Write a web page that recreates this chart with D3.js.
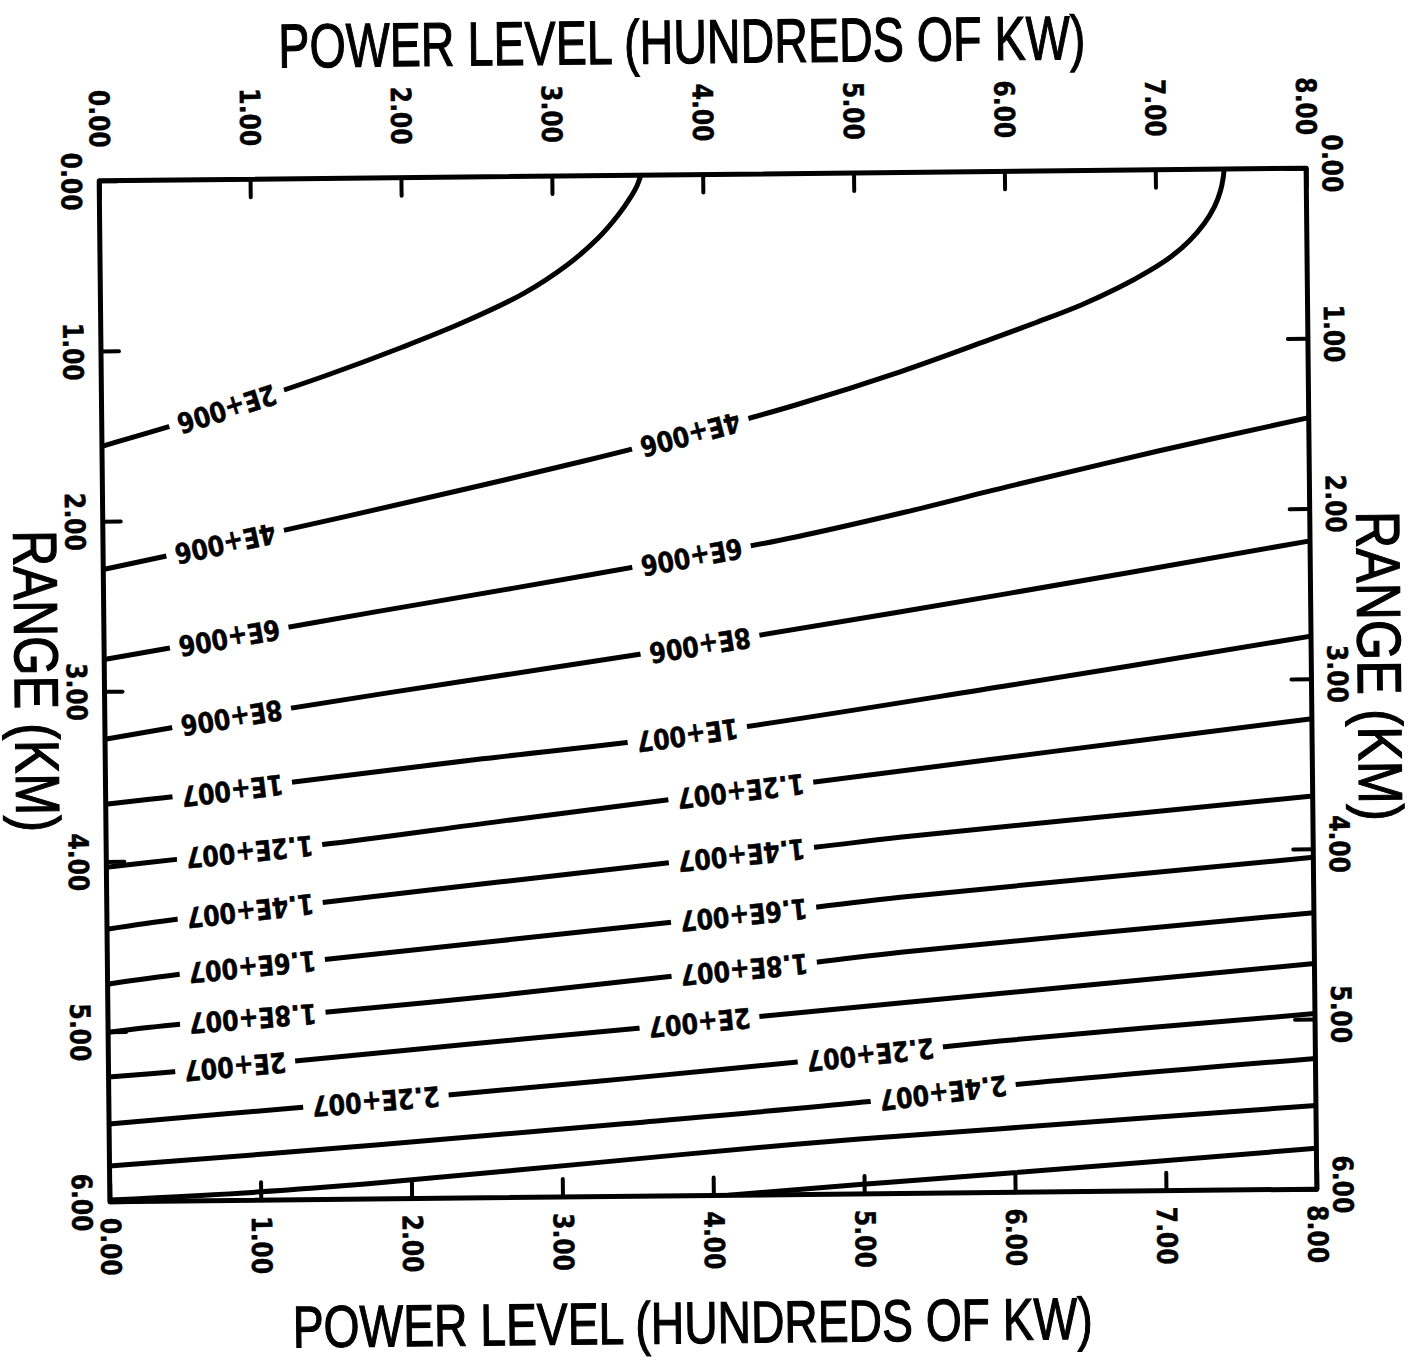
<!DOCTYPE html>
<html><head><meta charset="utf-8">
<script src="https://cdn.jsdelivr.net/npm/d3@7"></script>
<style>body{margin:0;background:#fff;} svg{display:block}</style>
</head><body>
<svg id="chart" width="1416" height="1360"></svg>
<script>
// ---------- data ----------
const xTickValues = [0, 1, 2, 3, 4, 5, 6, 7, 8];
const xTickLabels = ["0.00", "1.00", "2.00", "3.00", "4.00", "5.00", "6.00", "7.00", "8.00"];
const yTickValues = [0, 1, 2, 3, 4, 5, 6];
const yTickLabels = ["0.00", "1.00", "2.00", "3.00", "4.00", "5.00", "6.00"];
const xTitle = "POWER LEVEL (HUNDREDS OF KW)";
const yTitle = "RANGE (KM)";

const levelLabels = ["2E+006", "4E+006", "6E+006", "8E+006", "1E+007", "1.2E+007", "1.4E+007",
  "1.6E+007", "1.8E+007", "2E+007", "2.2E+007", "2.4E+007", "2.6E+007", "2.8E+007"];

// contour lines: [power (hundreds of kW), range (km)]
const line2e6 = [[0,1.56],[0.5,1.435],[1.0,1.30],[1.5,1.155],[2.0,0.995],[2.4,0.855],[2.8,0.69],[3.1,0.52],[3.3,0.37],[3.44,0.23],[3.52,0.13],[3.565,0.06],[3.59,0]];
const line4e6 = [[0,2.284],[0.8,2.14],[1.6,1.99],[2.4,1.835],[3.2,1.675],[3.9,1.525],[4.6,1.36],[5.3,1.17],[5.9,0.985],[6.2,0.89],[6.5,0.79],[6.75,0.69],[6.95,0.595],[7.1,0.51],[7.22,0.42],[7.32,0.32],[7.39,0.22],[7.43,0.13],[7.45,0.05],[7.456,0]];
const line6e6 = [[0,2.813],[0.83,2.692],[1.8,2.55],[2.71,2.42],[3.9,2.246],[4.6,2.134],[5.3,2.0],[6.0,1.853],[7.0,1.653],[8,1.466]];
const line8e6 = [[0,3.282],[0.84,3.162],[2.4,2.96],[3.95,2.765],[6,2.48],[8,2.19]];
const line1e7 = [[0,3.664],[0.29,3.637],[0.84,3.59],[1.22,3.547],[2.5,3.42],[3.86,3.293],[6,3.02],[8,2.75]];
const line12e7 = [[0,4.034],[0.466,3.992],[0.95,3.95],[1.434,3.914],[2.6,3.79],[3.717,3.673],[4.70,3.577],[6.3,3.41],[8,3.235]];
const line14e7 = [[0,4.398],[0.462,4.344],[1.43,4.254],[2.6,4.145],[3.713,4.043],[4.71,3.959],[5.26,3.907],[8,3.69]];
const line16e7 = [[0,4.721],[0.478,4.667],[1.44,4.589],[2.6,4.49],[3.71,4.395],[4.71,4.311],[5.26,4.259],[8,4.05]];
const line18e7 = [[0,5.003],[0.475,4.961],[1.44,4.90],[2.6,4.81],[3.71,4.712],[4.71,4.634],[5.26,4.582],[8,4.375]];
const line2e7 = [[0,5.267],[0.472,5.237],[1.22,5.185],[2.4,5.095],[3.55,5.01],[4.32,4.951],[5.25,4.881],[8,4.674]];
const line22e7 = [[0,5.543],[1.285,5.456],[2.25,5.393],[3.43,5.308],[4.7,5.21],[5.91,5.11],[8,4.968]];
const line24e7 = [[0,5.79],[1.786,5.682],[3.43,5.572],[5.0,5.46],[5.91,5.375],[8,5.232]];
const line26e7 = [[0,5.99],[0.975,5.952],[1.786,5.905],[3.16,5.805],[4.53,5.705],[5.91,5.625],[8,5.508]];
const line28e7 = [[4.1,6.0],[4.97,5.945],[5.99,5.885],[8,5.76]];

// power positions of the in-line labels for each contour
const labelPositions = [[0.83],[0.81,3.9],[0.83,3.9],[0.84,3.95],[0.84,3.86],[0.95,4.21],[0.95,4.21],
  [0.96,4.22],[0.96,4.22],[0.84,3.92],[1.77,5.05],[5.53],[],[]];

// ---------- layout ----------
const W = 1416, H = 1360;
const M = {left: 104.5, top: 174.5, width: 1207, height: 1021};
const contours = [line2e6, line4e6, line6e6, line8e6, line1e7, line12e7, line14e7, line16e7,
  line18e7, line2e7, line22e7, line24e7, line26e7, line28e7].map((pts, i) => ({
    pts, text: levelLabels[i], labels: labelPositions[i]}));

const x = d3.scaleLinear().domain([0, 8]).range([M.left, M.left + M.width]);
const y = d3.scaleLinear().domain([0, 6]).range([M.top, M.top + M.height]);

const svg = d3.select("#chart");
svg.append("rect").attr("width", W).attr("height", H).attr("fill", "#fff");
svg.append("defs").append("clipPath").attr("id", "plotclip").append("rect")
  .attr("x", M.left).attr("y", M.top).attr("width", M.width).attr("height", M.height);

const g = svg.append("g").attr("transform", "rotate(-0.6,708,685)");
const LBLFONT = "'DejaVu Sans', sans-serif";
const TITLEFONT = "'Liberation Sans Narrow', 'Liberation Sans', Arial, sans-serif";

// contours
const plot = g.append("g").attr("clip-path", "url(#plotclip)");
const lineGen = d3.line().x(d => x(d[0])).y(d => y(d[1])).curve(d3.curveCatmullRom.alpha(0.5));
const labelLayer = g.append("g");

function pointAtX(node, tx) {
  const L = node.getTotalLength();
  let lo = 0, hi = L;
  for (let k = 0; k < 40; k++) {
    const mid = (lo + hi) / 2;
    if (node.getPointAtLength(mid).x < tx) lo = mid; else hi = mid;
  }
  return (lo + hi) / 2;
}

contours.forEach(c => {
  const path = plot.append("path").datum(c.pts).attr("d", lineGen)
    .attr("fill", "none").attr("stroke", "#000").attr("stroke-width", 5)
    .attr("stroke-linecap", "round").attr("stroke-linejoin", "round");
  const node = path.node();
  c.labels.forEach(p => {
    const l = pointAtX(node, x(p));
    const pt = node.getPointAtLength(l);
    const a = node.getPointAtLength(Math.max(0, l - 8));
    const b = node.getPointAtLength(l + 8);
    const ang = Math.atan2(b.y - a.y, b.x - a.x) * 180 / Math.PI;
    const lg = labelLayer.append("g").attr("transform", `translate(${pt.x},${pt.y}) rotate(${ang + 180})`);
    const rect = lg.append("rect").attr("fill", "#fff");
    const t = lg.append("text").text(c.text)
      .attr("text-anchor", "middle").attr("dominant-baseline", "central")
      .attr("font-family", LBLFONT).attr("font-weight", "bold").attr("font-size", 28)
      .attr("stroke", "#000").attr("stroke-width", 0.5)
      .attr("transform", "scale(0.85,1)").attr("fill", "#000");
    const w = t.node().getComputedTextLength() * 0.85;
    rect.attr("x", -w / 2 - 9).attr("y", -14).attr("width", w + 18).attr("height", 28);
  });
});

// frame
g.append("rect").attr("x", M.left).attr("y", M.top).attr("width", M.width).attr("height", M.height)
  .attr("fill", "none").attr("stroke", "#000").attr("stroke-width", 5).attr("stroke-linejoin", "round");

function styleAxis(ax, textTransform, anchor) {
  ax.select(".domain").remove();
  ax.selectAll(".tick line").attr("stroke", "#000").attr("stroke-width", 4).attr("stroke-linecap", "round");
  ax.selectAll(".tick text").attr("x", null).attr("y", null).attr("dy", null)
    .attr("transform", textTransform).attr("text-anchor", anchor).attr("dominant-baseline", "central")
    .attr("font-family", LBLFONT).attr("font-weight", "bold").attr("font-size", 28)
    .attr("stroke", "#000").attr("stroke-width", 0.5).attr("fill", "#000");
}

const topAxis = g.append("g").attr("transform", `translate(0,${M.top})`)
  .call(d3.axisTop(x).tickValues(xTickValues).tickFormat((d, i) => xTickLabels[i]).tickSize(-18).tickSizeOuter(0));
styleAxis(topAxis, "translate(0,-33) rotate(90) scale(0.84,1)", "end");

const bottomAxis = g.append("g").attr("transform", `translate(0,${M.top + M.height})`)
  .call(d3.axisBottom(x).tickValues(xTickValues).tickFormat((d, i) => xTickLabels[i]).tickSize(-18).tickSizeOuter(0));
styleAxis(bottomAxis, "translate(0,16) rotate(90) scale(0.84,1)", "start");

const leftAxis = g.append("g").attr("transform", `translate(${M.left},0)`)
  .call(d3.axisLeft(y).tickValues(yTickValues).tickFormat((d, i) => yTickLabels[i]).tickSize(-18).tickSizeOuter(0));
styleAxis(leftAxis, "translate(-28,0) rotate(90) scale(0.84,1)", "middle");

const rightAxis = g.append("g").attr("transform", `translate(${M.left + M.width},0)`)
  .call(d3.axisRight(y).tickValues(yTickValues).tickFormat((d, i) => yTickLabels[i]).tickSize(-20).tickSizeOuter(0));
styleAxis(rightAxis, "translate(26,-5) rotate(90) scale(0.84,1)", "middle");

// titles
function title(tx, ty, rot, len, fs) {
  g.append("text").text(rot ? yTitle : xTitle)
    .attr("transform", `translate(${tx},${ty})` + (rot ? " rotate(90)" : ""))
    .attr("text-anchor", "middle")
    .attr("font-family", TITLEFONT).attr("font-size", fs)
    .attr("fill", "#000").attr("stroke", "#000").attr("stroke-width", 1.2)
    .attr("textLength", len).attr("lengthAdjust", "spacingAndGlyphs");
}
title(688.5, 63, false, 807, 62);
title(686, 1343, false, 800, 59);
title(15, 674, true, 302, 62);
title(1358, 673, true, 310, 62);
</script>
</body></html>
